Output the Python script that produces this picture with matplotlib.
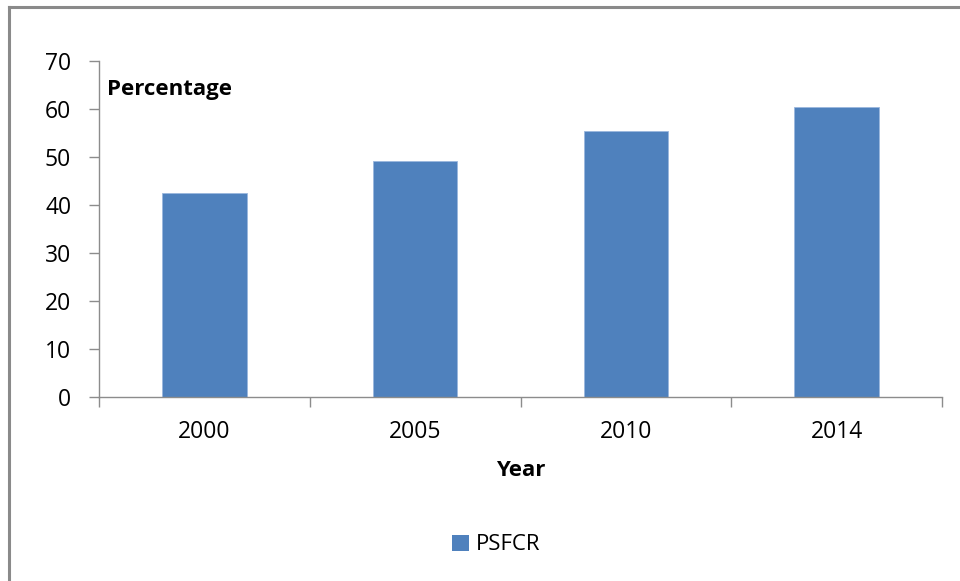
import matplotlib
matplotlib.use("Agg")
from matplotlib import pyplot as plt
from matplotlib.lines import Line2D
from matplotlib.patches import Patch
import numpy as np

years = ["2000", "2005", "2010", "2014"]
psfcr = [42.4, 49.1, 55.5, 60.4]

plt.rcParams["font.family"] = ["Open Sans", "DejaVu Sans"]

bar_color = "#4f81bd"
axis_color = "#8c8c8c"

fig = plt.figure(figsize=(9.6, 5.81), dpi=100)
ax = fig.add_axes([99 / 960, 1 - 396.7 / 581, (942 - 99) / 960, (396.7 - 61) / 581])

x = np.arange(len(years))
ax.bar(x, psfcr, width=0.4, color=bar_color, edgecolor="#9bb7dd", linewidth=0.6,
       label="PSFCR")

ax.set_xlim(-0.5, len(years) - 0.5)
ax.set_ylim(0, 70)
ax.set_yticks(range(0, 71, 10))

# category ticks sit between the bars, labels under the bars
ax.set_xticks(np.arange(-0.5, len(years), 1.0))
ax.set_xticklabels([])
ax.set_xticks(x, minor=True)
ax.set_xticklabels(years, minor=True)
ax.tick_params(axis="x", which="minor", length=0, pad=17, labelsize=16.5)
ax.tick_params(axis="x", which="major", direction="out", length=7,
               color=axis_color, width=1)
ax.tick_params(axis="y", direction="out", length=7, color=axis_color,
               width=1, labelsize=16.5, pad=13)

for side in ("top", "right"):
    ax.spines[side].set_visible(False)
for side in ("left", "bottom"):
    ax.spines[side].set_color(axis_color)
    ax.spines[side].set_linewidth(1)

fig.text(107 / 960, 1 - 89 / 581, "Percentage", fontsize=16, fontweight="bold",
         va="center", ha="left")
fig.text(521 / 960, 1 - 471 / 581, "Year", fontsize=16, fontweight="bold",
         va="center", ha="center")

fig.legend(handles=[Patch(facecolor=bar_color, label="PSFCR")],
           loc="center", bbox_to_anchor=(496 / 960, 1 - 545 / 581),
           frameon=False, fontsize=16, handlelength=0.75, handleheight=0.75,
           handletextpad=0.3)

# outer chart frame (only top and left edges visible)
fig.add_artist(Line2D([9 / 960, 1], [1 - 7 / 581, 1 - 7 / 581],
                      color="#8a8a8a", linewidth=2.2))
fig.add_artist(Line2D([9 / 960, 9 / 960], [0, 1 - 7 / 581],
                      color="#8a8a8a", linewidth=2.2))

fig.savefig("out.png", dpi=100)
